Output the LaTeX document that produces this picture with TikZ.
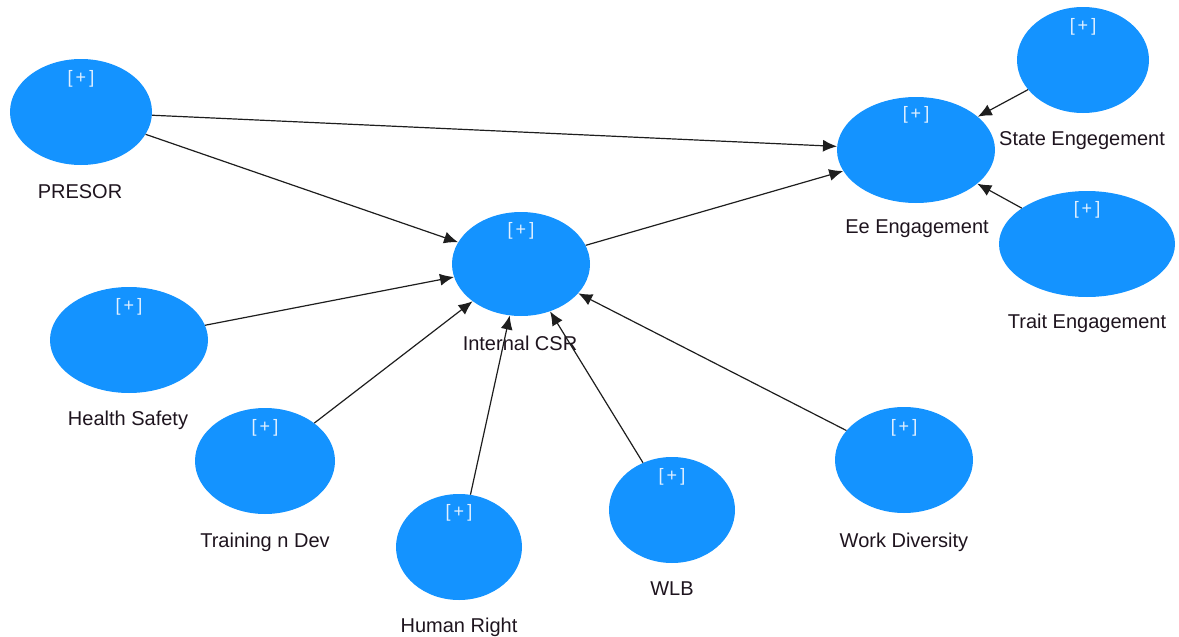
\documentclass[tikz,border=0pt]{standalone}
\usepackage{fontspec}
\setmainfont{Liberation Sans}
\usetikzlibrary{shapes.geometric,arrows.meta}
\definecolor{lvblue}{RGB}{20,147,255}
\definecolor{lbltext}{RGB}{30,20,30}
\definecolor{plustext}{RGB}{225,240,255}
\definecolor{arrcol}{RGB}{30,30,30}
\tikzset{
  lv/.style={ellipse, fill=lvblue, draw=none, inner sep=0pt, minimum height=106pt},
  plus/.style={text=plustext, font=\fontsize{18}{20}\selectfont, inner sep=0pt},
  lbl/.style={text=lbltext, font=\fontsize{20}{24}\selectfont, inner sep=0pt},
  arr/.style={draw=arrcol, line width=1.2pt, -{Latex[length=14pt,width=12pt]}}
}
\begin{document}
\begin{tikzpicture}[x=1pt,y=-1pt]
\useasboundingbox (0,0) rectangle (1179,637);
% latent variables
\node[lv, minimum width=142pt] (presor) at (81,112) {};
\node[lv, minimum width=138pt, minimum height=104pt] (icsr) at (521,264) {};
\node[lv, minimum width=158pt] (ee) at (916,150) {};
\node[lv, minimum width=132pt] (state) at (1083,60) {};
\node[lv, minimum width=176pt] (trait) at (1087,244) {};
\node[lv, minimum width=158pt] (health) at (129,340) {};
\node[lv, minimum width=140pt] (train) at (265,461) {};
\node[lv, minimum width=126pt] (human) at (459,547) {};
\node[lv, minimum width=126pt] (wlb) at (672,510) {};
\node[lv, minimum width=138pt] (work) at (904,460) {};
% plus marks
\node[plus] (p1) at (81,79) {[\,+\,]};
\node[plus] (p2) at (521,231) {[\,+\,]};
\node[plus] (p3) at (916,115) {[\,+\,]};
\node[plus] (p4) at (1083,27) {[\,+\,]};
\node[plus] (p5) at (1087,210) {[\,+\,]};
\node[plus] (p6) at (129,307) {[\,+\,]};
\node[plus] (p7) at (265,428) {[\,+\,]};
\node[plus] (p8) at (459,513) {[\,+\,]};
\node[plus] (p9) at (672,477) {[\,+\,]};
\node[plus] (p10) at (904,428) {[\,+\,]};
% labels
\node[lbl] (l1) at (80,192) {PRESOR};
\node[lbl] (l2) at (520,343) {Internal CSR};
\node[lbl] (l3) at (917,229) {Ee Engagement};
\node[lbl] (l4) at (1082,141) {State Engegement};
\node[lbl] (l5) at (1087,323) {Trait Engagement};
\node[lbl] (l6) at (128,420) {Health Safety};
\node[lbl] (l7) at (265,542) {Training n Dev};
\node[lbl] (l8) at (459,627) {Human Right};
\node[lbl] (l9) at (672,589) {WLB};
\node[lbl] (l10) at (904,542) {Work Diversity};
% paths
\draw[arr] (presor) -- (ee);
\draw[arr] (presor) -- (icsr);
\draw[arr] (icsr) -- (ee);
\draw[arr] (state) -- (ee);
\draw[arr] (trait) -- (ee);
\draw[arr] (health) -- (icsr);
\draw[arr] (train) -- (icsr);
\draw[arr] (human) -- (icsr);
\draw[arr] (wlb) -- (icsr);
\draw[arr] (work) -- (icsr);
\end{tikzpicture}
\end{document}
